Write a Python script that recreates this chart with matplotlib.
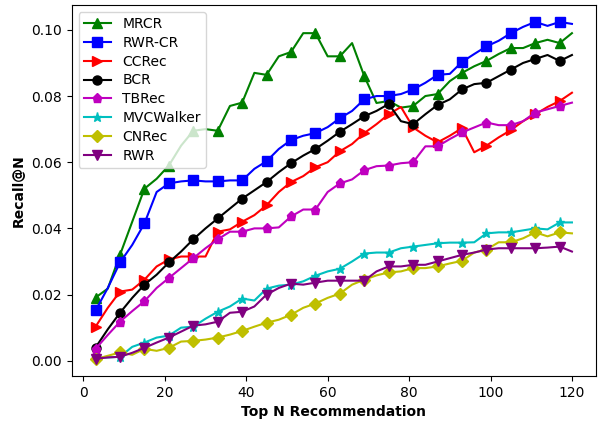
import numpy as np
import matplotlib
matplotlib.use("Agg")
import matplotlib.pyplot as plt

# Top N values (one point every 3, markers every 6)
top_n = list(range(3, 121, 3))

mrcr = [0.0191, 0.0218, 0.032, 0.042, 0.052, 0.055, 0.059, 0.065, 0.0695, 0.0700,
        0.0695, 0.077, 0.078, 0.087, 0.0864, 0.092, 0.0933, 0.099, 0.099, 0.092,
        0.092, 0.096, 0.086, 0.0779, 0.0785, 0.0765, 0.077, 0.080, 0.0806, 0.0845,
        0.087, 0.089, 0.0906, 0.0927, 0.0945, 0.0945, 0.096, 0.097, 0.096, 0.099]
rwr_cr = [0.0152, 0.022, 0.0297, 0.035, 0.0415, 0.051, 0.0536, 0.0542, 0.0545, 0.0542,
          0.0542, 0.0545, 0.0545, 0.058, 0.0603, 0.064, 0.0667, 0.068, 0.0688, 0.0706,
          0.0733, 0.0755, 0.079, 0.080, 0.080, 0.0806, 0.082, 0.084, 0.0864, 0.0867,
          0.0903, 0.0927, 0.095, 0.0967, 0.099, 0.1009, 0.1024, 0.1012, 0.1024, 0.1018]
ccrec = [0.0103, 0.016, 0.0209, 0.0215, 0.0245, 0.0285, 0.0306, 0.0315, 0.0315, 0.0315,
         0.039, 0.0397, 0.042, 0.044, 0.047, 0.051, 0.054, 0.0558, 0.0585, 0.060,
         0.0633, 0.0655, 0.0688, 0.0715, 0.0745, 0.0767, 0.0705, 0.068, 0.066, 0.068,
         0.0703, 0.063, 0.065, 0.0675, 0.0697, 0.0724, 0.0745, 0.0767, 0.0785, 0.081]
bcr = [0.0040, 0.0095, 0.0145, 0.019, 0.023, 0.026, 0.0297, 0.033, 0.0367, 0.040,
       0.043, 0.046, 0.049, 0.0515, 0.054, 0.057, 0.0597, 0.062, 0.064, 0.0665,
       0.0692, 0.0715, 0.0739, 0.0755, 0.0776, 0.0724, 0.0715, 0.0745, 0.0773, 0.079,
       0.082, 0.0836, 0.084, 0.086, 0.088, 0.090, 0.0912, 0.0924, 0.0906, 0.0924]
tbrec = [0.0036, 0.0078, 0.0118, 0.015, 0.018, 0.022, 0.025, 0.028, 0.031, 0.034,
         0.0367, 0.039, 0.039, 0.040, 0.040, 0.0403, 0.0436, 0.0457, 0.0457, 0.051,
         0.0536, 0.0548, 0.0576, 0.0588, 0.059, 0.0597, 0.060, 0.0648, 0.0648, 0.067,
         0.069, 0.0705, 0.072, 0.0712, 0.0712, 0.0724, 0.075, 0.076, 0.077, 0.078]
mvcwalker = [0.0009, 0.0010, 0.0012, 0.0042, 0.0055, 0.007, 0.0076, 0.010, 0.0103, 0.0127,
             0.0148, 0.0164, 0.0188, 0.0182, 0.0218, 0.0227, 0.023, 0.024, 0.0257, 0.027,
             0.0278, 0.030, 0.0324, 0.0327, 0.0327, 0.034, 0.0345, 0.035, 0.0355, 0.0357,
             0.0357, 0.0358, 0.0385, 0.0388, 0.0388, 0.0394, 0.040, 0.0397, 0.0418, 0.0418]
cnrec = [0.0005, 0.0015, 0.0025, 0.0018, 0.0036, 0.003, 0.0039, 0.0058, 0.006, 0.0064,
         0.007, 0.0079, 0.009, 0.0103, 0.0115, 0.0124, 0.0139, 0.016, 0.0173, 0.019,
         0.0203, 0.023, 0.0245, 0.0258, 0.0267, 0.027, 0.028, 0.028, 0.0285, 0.0294,
         0.0302, 0.0327, 0.0336, 0.0358, 0.0358, 0.037, 0.0388, 0.0376, 0.0388, 0.0385]
rwr = [0.0006, 0.0010, 0.0012, 0.0024, 0.0039, 0.0055, 0.007, 0.0088, 0.0106, 0.011,
       0.0118, 0.0145, 0.0148, 0.0164, 0.020, 0.022, 0.0233, 0.023, 0.0236, 0.0242,
       0.0242, 0.0242, 0.0242, 0.027, 0.0285, 0.0285, 0.029, 0.029, 0.030, 0.031,
       0.032, 0.0327, 0.0336, 0.034, 0.034, 0.034, 0.034, 0.0342, 0.0345, 0.033]

series = [
    ("MRCR", mrcr, "g", "^"),
    ("RWR-CR", rwr_cr, "b", "s"),
    ("CCRec", ccrec, "r", ">"),
    ("BCR", bcr, "k", "o"),
    ("TBRec", tbrec, "m", "p"),
    ("MVCWalker", mvcwalker, "c", "*"),
    ("CNRec", cnrec, "y", "D"),
    ("RWR", rwr, "purple", "v"),
]

fig, ax = plt.subplots(figsize=(6.03, 4.21), dpi=100)
for name, vals, col, mk in series:
    ax.plot(top_n, vals, color=col, marker=mk, markevery=2,
            markersize=6.5, linewidth=1.5, label=name)

ax.set_xlabel("Top N Recommendation", fontweight="bold")
ax.set_ylabel("Recall@N", fontweight="bold")
ax.set_xticks([0, 20, 40, 60, 80, 100, 120])
ax.set_yticks([0.00, 0.02, 0.04, 0.06, 0.08, 0.10])
ax.legend(loc="upper left", labelspacing=0.35, borderpad=0.35)

plt.subplots_adjust(left=0.119, right=0.988, top=0.988, bottom=0.107)
plt.savefig("out.png", dpi=100)
